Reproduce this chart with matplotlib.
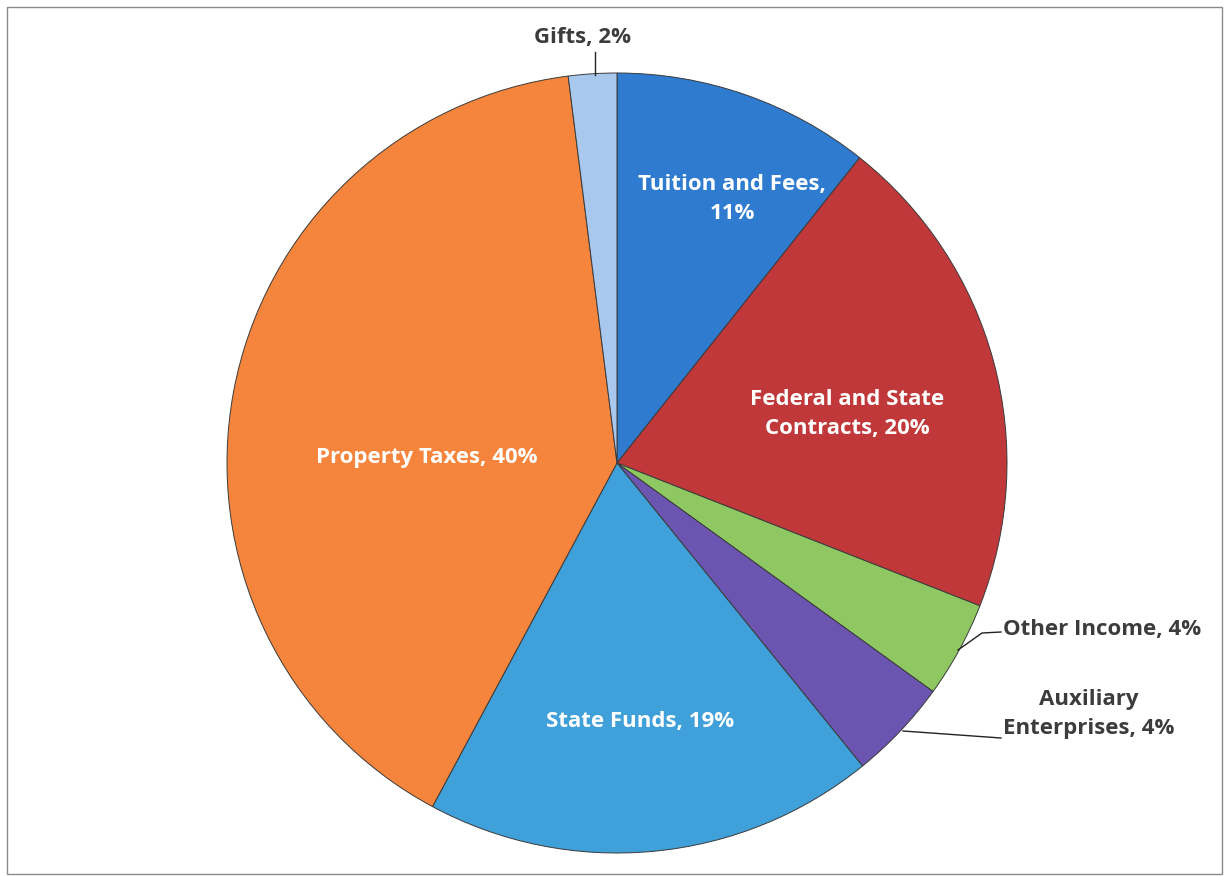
import matplotlib.pyplot as plt
from matplotlib.patches import Rectangle

# revenue shares (clockwise from 12 o'clock)
categories = ["Tuition and Fees", "Federal and State Contracts", "Other Income",
              "Auxiliary Enterprises", "State Funds", "Property Taxes", "Gifts"]
shares = [10.7, 20.3, 4.0, 4.2, 18.7, 40.2, 2.0]
pct_labels = ["11%", "20%", "4%", "4%", "19%", "40%", "2%"]

colors = ["#2e7bd0", "#c0383a", "#8fc862", "#6b55b0", "#3fa0da", "#f5853c", "#a9c8ee"]

W, H = 1225, 876
CX, CY, R = 617, 463, 390   # pie centre and radius in pixels
FS = 16
LS = 1.55


def px(x, y):
    # pixel position -> data coords (pie radius = 1)
    return (x - CX) / R, (CY - y) / R


plt.rcParams['font.family'] = ['Open Sans', 'DejaVu Sans']

fig = plt.figure(figsize=(W / 100, H / 100), dpi=100)
ax = fig.add_axes([0, 0, 1, 1])

wedges, _ = ax.pie(shares, colors=colors, startangle=90, counterclock=False,
                   radius=1.0, wedgeprops=dict(edgecolor="#3a3a3a", linewidth=0.7))
ax.set_xlim(-CX / R, (W - CX) / R)
ax.set_ylim(-(H - CY) / R, CY / R)
ax.set_aspect('auto')
ax.axis('off')

inside = {
    0: ("Tuition and Fees,\n" + pct_labels[0], (732, 199)),
    1: ("Federal and State\nContracts, " + pct_labels[1], (847, 414)),
    4: ("State Funds, " + pct_labels[4], (640, 721)),
    5: ("Property Taxes, " + pct_labels[5], (427, 458)),
}
for i, (txt, pos) in inside.items():
    ax.text(*px(*pos), txt, color="white", fontsize=FS, fontweight="bold",
            ha="center", va="center", linespacing=LS)

dark = "#3c3c3c"
# Gifts label with vertical leader
ax.text(*px(583, 37), categories[6] + ", " + pct_labels[6], color=dark, fontsize=FS,
        fontweight="bold", ha="center", va="center")
ax.plot(*zip(px(595, 52), px(595, 75)), color="#222222", lw=1.0)

# Other Income
ax.text(*px(1003, 629), categories[2] + ", " + pct_labels[2], color=dark, fontsize=FS,
        fontweight="bold", ha="left", va="center")
ax.plot(*zip(px(958, 650), px(982, 633), px(1001, 632)), color="#222222", lw=1.0)

# Auxiliary Enterprises
ax.text(*px(1089, 714), "Auxiliary\nEnterprises, " + pct_labels[3], color=dark, fontsize=FS,
        fontweight="bold", ha="center", va="center", linespacing=LS)
ax.plot(*zip(px(903, 731), px(1001, 738)), color="#222222", lw=1.0)

# chart frame
fig.patches.append(Rectangle((7 / W, 1 - 874 / H), 1215 / W, 867 / H, transform=fig.transFigure,
                             fill=False, edgecolor="#8a8a8a", linewidth=1.0))

plt.savefig("out.png", dpi=100)
